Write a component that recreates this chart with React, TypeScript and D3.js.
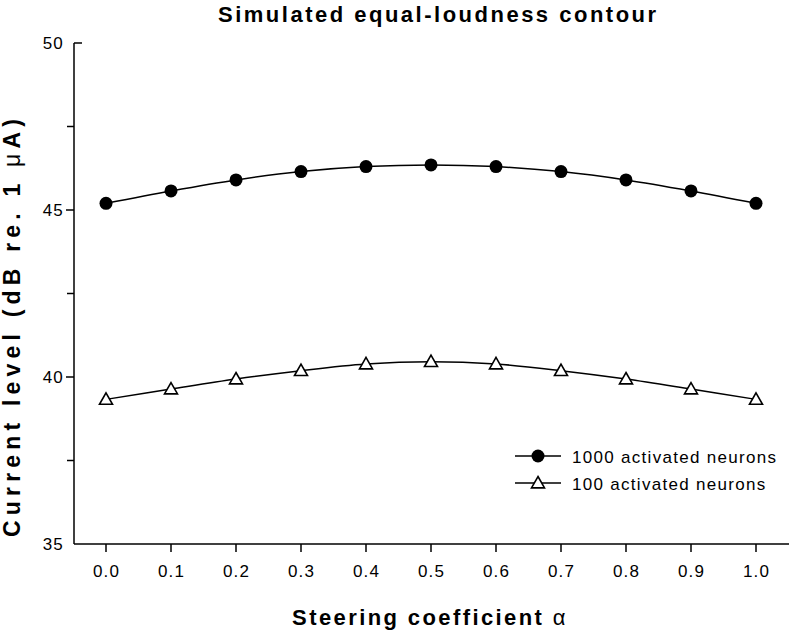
import React from 'react';
import * as d3 from 'd3';

const alphas = [0.0, 0.1, 0.2, 0.3, 0.4, 0.5, 0.6, 0.7, 0.8, 0.9, 1.0];
const level1000 = [45.2, 45.57, 45.9, 46.15, 46.3, 46.35, 46.3, 46.15, 45.9, 45.57, 45.2];
const level100 = [39.33, 39.64, 39.94, 40.19, 40.39, 40.46, 40.39, 40.19, 39.94, 39.64, 39.33];
const xTickValues = [0.0, 0.1, 0.2, 0.3, 0.4, 0.5, 0.6, 0.7, 0.8, 0.9, 1.0];
const yMajorTicks = [35, 40, 45, 50];
const yMinorTicks = [37.5, 42.5, 47.5];
const seriesNames = ['1000 activated neurons', '100 activated neurons'];

const FONT = '"Liberation Sans", Arial, Helvetica, sans-serif';

export default function App() {
  const W = 793, H = 631;
  const x = d3.scaleLinear().domain([0, 1]).range([106, 756]);
  const y = d3.scaleLinear().domain([35, 50]).range([544, 43]);
  const axisLeft = 74, axisRight = 789;

  const line = d3
    .line<[number, number]>()
    .x((d) => x(d[0]))
    .y((d) => y(d[1]))
    .curve(d3.curveCatmullRom.alpha(0.5));

  const d1000 = alphas.map((a, i) => [a, level1000[i]] as [number, number]);
  const d100 = alphas.map((a, i) => [a, level100[i]] as [number, number]);

  const tri = (cx: number, cy: number) => {
    const s = 6.5;
    return `M${cx},${cy - s} L${cx + s},${cy + s * 0.75} L${cx - s},${cy + s * 0.75} Z`;
  };

  const legendY = [456, 483];

  return (
    <svg
      width={W}
      height={H}
      style={{ position: 'absolute', left: 0, top: 0, background: '#fff' }}
      fontFamily={FONT}
    >
      <rect x={0} y={0} width={W} height={H} fill="#fff" />
      {/* Title */}
      <text x={218} y={22} fontSize={22} fontWeight="bold" letterSpacing={2.5} fill="#000">
        Simulated equal-loudness contour
      </text>

      {/* Axes */}
      <line x1={axisLeft} x2={axisLeft} y1={y(50)} y2={y(35)} stroke="#000" strokeWidth={1.5} />
      <line x1={axisLeft} x2={axisRight} y1={y(35)} y2={y(35)} stroke="#000" strokeWidth={1.5} />

      {/* Y ticks */}
      {yMajorTicks.map((t) => (
        <g key={'ym' + t}>
          {t === 50 ? (
            <line x1={axisLeft} x2={axisLeft + 8} y1={y(t)} y2={y(t)} stroke="#000" strokeWidth={1.5} />
          ) : t !== 35 ? (
            <line x1={axisLeft - 8} x2={axisLeft} y1={y(t)} y2={y(t)} stroke="#000" strokeWidth={1.5} />
          ) : null}
          <text x={64} y={y(t) + 6} textAnchor="end" fontSize={17} letterSpacing={1.2} fill="#000">
            {t}
          </text>
        </g>
      ))}
      {yMinorTicks.map((t) => (
        <line key={'yn' + t} x1={axisLeft - 7} x2={axisLeft} y1={y(t)} y2={y(t)} stroke="#000" strokeWidth={1.5} />
      ))}

      {/* X ticks */}
      {xTickValues.map((t) => (
        <g key={'x' + t}>
          <line x1={x(t)} x2={x(t)} y1={y(35)} y2={y(35) + 8} stroke="#000" strokeWidth={1.5} />
          <text x={x(t) + 0.6} y={577} textAnchor="middle" fontSize={17} letterSpacing={1.2} fill="#000">
            {t.toFixed(1)}
          </text>
        </g>
      ))}

      {/* X label */}
      <text x={430} y={625} textAnchor="middle" fontSize={22} fontWeight="bold" letterSpacing={2.4} fill="#000">
        Steering coefficient <tspan fontWeight="normal">α</tspan>
      </text>

      {/* Y label */}
      <text
        transform="translate(20,537) rotate(-90)"
        x={0}
        y={0}
        fontSize={23}
        fontWeight="bold"
        textLength={418}
        lengthAdjust="spacing"
        fill="#000"
      >
        Current level (dB re. 1 <tspan fontWeight="normal">μ</tspan>A)
      </text>

      {/* Lines */}
      <path d={line(d1000) || ''} fill="none" stroke="#000" strokeWidth={1.5} />
      <path d={line(d100) || ''} fill="none" stroke="#000" strokeWidth={1.5} />

      {/* Markers */}
      {d1000.map((d, i) => (
        <circle key={'c' + i} cx={x(d[0])} cy={y(d[1])} r={6.5} fill="#000" />
      ))}
      {d100.map((d, i) => (
        <path key={'t' + i} d={tri(x(d[0]), y(d[1]))} fill="#fff" stroke="#000" strokeWidth={1.6} />
      ))}

      {/* Legend */}
      <line x1={515} x2={561} y1={legendY[0]} y2={legendY[0]} stroke="#000" strokeWidth={1.5} />
      <circle cx={538} cy={legendY[0]} r={6.5} fill="#000" />
      <text x={572} y={legendY[0] + 6.5} fontSize={17} letterSpacing={1.3} fill="#000">
        {seriesNames[0]}
      </text>
      <line x1={515} x2={561} y1={legendY[1]} y2={legendY[1]} stroke="#000" strokeWidth={1.5} />
      <path d={tri(538, legendY[1])} fill="#fff" stroke="#000" strokeWidth={1.6} />
      <text x={572} y={legendY[1] + 6.5} fontSize={17} letterSpacing={1.3} fill="#000">
        {seriesNames[1]}
      </text>
    </svg>
  );
}
